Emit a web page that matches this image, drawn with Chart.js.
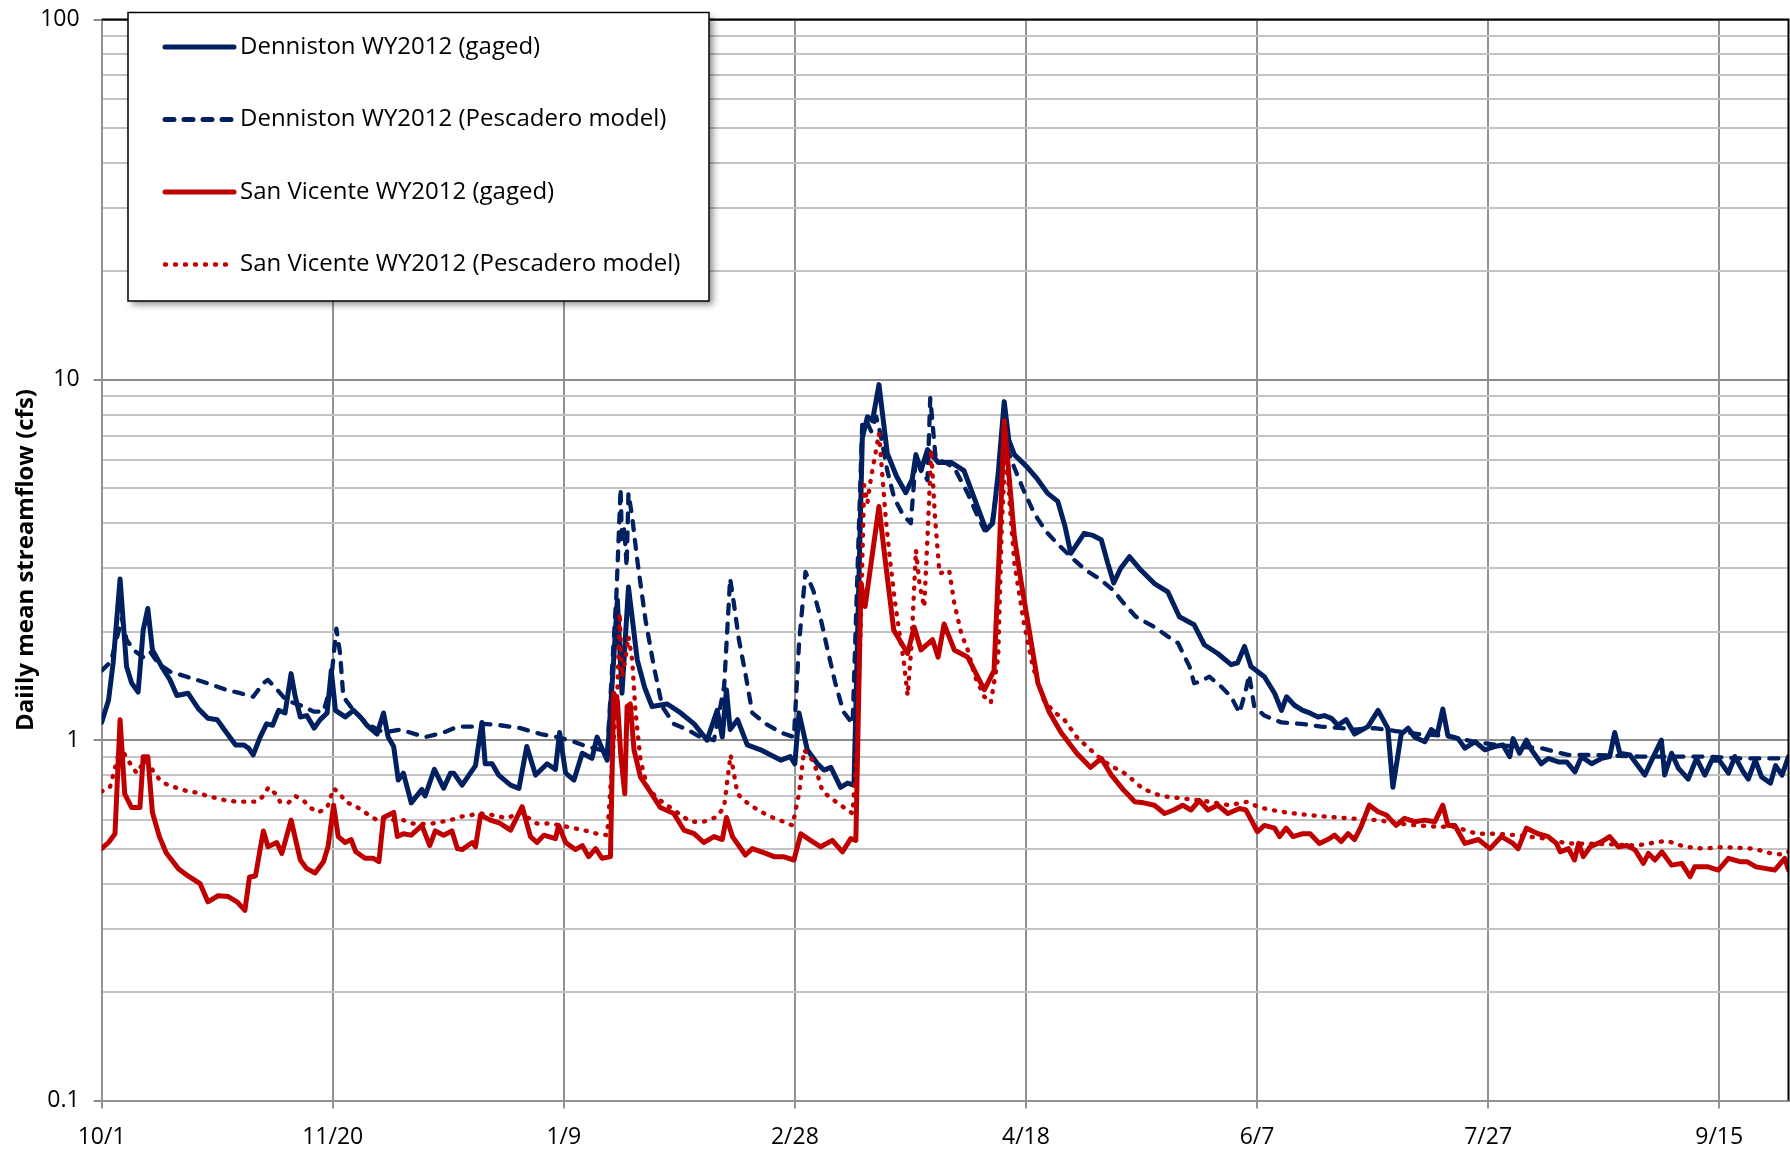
<!DOCTYPE html>
<html>
<head>
<meta charset="utf-8">
<title>Daily mean streamflow WY2012</title>
<script src="https://cdn.jsdelivr.net/npm/chart.js@4.4.0/dist/chart.umd.min.js"></script>
<style>
    html, body { margin: 0; padding: 0; background: #fff; }
    #wrap { width: 1790px; height: 1150px; position: relative; }
</style>
</head>
<body>
<div id="wrap"><canvas id="flowChart" width="1790" height="1150"></canvas></div>
<script>
// x = days since 10/1/2011, y = daily mean streamflow (cfs)
const xTickDays = [0, 50, 100, 150, 200, 250, 300, 350];
const xTickLabels = ['10/1', '11/20', '1/9', '2/28', '4/18', '6/7', '7/27', '9/15'];
const yTickValues = [0.1, 1, 10, 100];
const yTickLabels = ['0.1', '1', '10', '100'];

const seriesNames = [
    'Denniston WY2012 (gaged)',
    'Denniston WY2012 (Pescadero model)',
    'San Vicente WY2012 (gaged)',
    'San Vicente WY2012 (Pescadero model)'
];

const dennistonGaged = [
    [0,1.12],[1.5,1.29],[2.5,1.64],[4,2.8],[4.7,2.11],[5.4,1.6],[6.5,1.44],[7.9,1.36],[9,2.02],[10,2.32],
    [11,1.78],[13,1.6],[14.8,1.47],[16.3,1.33],[18.7,1.35],[21,1.22],[23,1.15],[25,1.14],[27,1.05],[29,0.97],
    [30.7,0.97],[31.8,0.95],[32.8,0.91],[34.3,1.02],[35.7,1.11],[37,1.1],[38.3,1.21],[39.7,1.19],[41,1.53],[41.9,1.32],
    [43,1.16],[44.4,1.17],[46,1.08],[47.3,1.14],[48.8,1.19],[49.7,1.56],[50.6,1.21],[52.7,1.16],[54.5,1.21],[56,1.16],
    [57.4,1.1],[59.6,1.04],[61,1.19],[62,1.02],[63.2,0.96],[64.2,0.775],[65.3,0.81],[67,0.67],[69.3,0.73],[70,0.7],
    [72,0.83],[74,0.736],[75.5,0.81],[76.2,0.81],[78,0.75],[80.9,0.85],[82.3,1.12],[83,0.86],[84.5,0.86],[85.9,0.8],
    [88.5,0.75],[90.3,0.735],[92,0.96],[93.9,0.8],[96.4,0.86],[98.2,0.83],[99.1,1.05],[100.4,0.81],[102.2,0.775],[104,0.92],
    [106.1,0.89],[107.2,1.02],[109.4,0.88],[110.8,1.67],[111.6,2.45],[112.6,1.35],[114,2.66],[115.9,1.67],[117.5,1.4],[119.1,1.24],
    [122.4,1.26],[125.3,1.19],[128.2,1.11],[131,1.0],[133.2,1.21],[134.3,1.02],[135.2,1.38],[136,1.07],[137.6,1.14],[139.7,0.97],
    [142.6,0.94],[144.8,0.91],[147,0.88],[149,0.9],[150,0.86],[150.9,1.19],[152.7,0.94],[154.9,0.86],[156.3,0.826],[157.8,0.84],
    [159.9,0.74],[161.4,0.76],[162.8,0.75],[164.6,6.9],[165.7,7.9],[166.8,7.7],[168.2,9.7],[170,6.25],[172,5.4],[174,4.86],
    [175.4,5.3],[176.2,6.2],[177.3,5.6],[178.7,6.4],[181,5.9],[183.8,5.9],[186.6,5.6],[188.8,4.7],[191.4,3.83],[192.8,4.0],
    [194,5.5],[195.3,8.7],[196.3,6.8],[197.5,6.2],[200.4,5.7],[202.5,5.3],[204.7,4.84],[206.9,4.6],[208.5,3.9],[209.7,3.3],
    [212.6,3.75],[214.5,3.7],[216.3,3.6],[217.7,3.1],[219,2.73],[220.5,3.0],[222.4,3.23],[224.9,2.96],[227.8,2.72],[230.7,2.58],
    [233.2,2.2],[236.4,2.09],[238.6,1.84],[241.5,1.74],[244.4,1.62],[245.8,1.64],[247.3,1.82],[248.7,1.6],[251.6,1.5],[253.8,1.35],
    [255.3,1.21],[256.4,1.32],[258.1,1.25],[259.9,1.21],[261.4,1.19],[263.2,1.16],[264.6,1.17],[266.1,1.15],[267.5,1.1],[269.3,1.14],
    [271.1,1.04],[274,1.09],[276.2,1.21],[278.3,1.08],[279.4,0.74],[281.2,1.04],[282.7,1.08],[284.1,1.02],[286.3,0.99],[287.7,1.07],
    [289,1.04],[290.2,1.22],[291.3,1.03],[293.5,1.01],[295,0.95],[297.2,0.99],[299.3,0.94],[301.4,0.96],[303.2,0.97],[304.7,0.9],
    [305.4,1.01],[306.8,0.92],[308.3,1.0],[309.4,0.94],[311.5,0.86],[313,0.89],[315.2,0.87],[317,0.87],[318.8,0.817],[320.2,0.9],
    [322.4,0.86],[324.6,0.89],[326.3,0.9],[327.4,1.05],[328.5,0.92],[330.7,0.91],[332.1,0.86],[333.9,0.8],[335.4,0.88],[337.5,1.0],
    [338.2,0.8],[339.7,0.92],[341.2,0.835],[343.3,0.78],[345.1,0.89],[346.9,0.8],[348.4,0.88],[350,0.88],[352,0.81],[353.4,0.9],
    [355.2,0.817],[356.3,0.78],[357.8,0.88],[359.2,0.79],[361.1,0.76],[362.2,0.85],[363.6,0.8],[365,0.9]
];

const dennistonModel = [
    [0,1.56],[2,1.65],[4.4,2.18],[5.4,1.9],[6.9,1.78],[9,1.7],[10.5,1.76],[12.3,1.63],[14.8,1.55],[18.4,1.5],
    [22.8,1.44],[27,1.38],[30,1.35],[32.8,1.32],[35,1.44],[36,1.47],[38,1.38],[40,1.29],[43,1.25],[45.9,1.2],
    [48,1.2],[49.5,1.4],[50.8,2.04],[51.6,1.74],[52.3,1.32],[54.5,1.21],[57.4,1.11],[61,1.05],[64.6,1.07],[70,1.02],
    [74,1.05],[77,1.09],[80.5,1.09],[82.7,1.11],[86.3,1.1],[90.6,1.08],[95,1.04],[98.6,1.02],[102.2,0.99],[105,0.96],
    [108,0.94],[109.4,0.92],[111.4,2.55],[112.3,5.0],[112.6,3.51],[113.1,3.9],[113.6,3.03],[114,4.84],[114.8,4.17],[115.9,3.16],
    [117.7,2.15],[119.5,1.6],[121.3,1.24],[123.8,1.11],[126.7,1.07],[129.6,1.02],[132.5,1.0],[134.7,1.41],[136,2.81],[136.8,2.4],
    [137.9,1.9],[139.3,1.53],[140.8,1.19],[143.7,1.11],[147,1.05],[149.8,1.02],[150.9,1.85],[152.3,2.93],[154,2.6],[155.5,2.2],
    [157,1.8],[158.7,1.45],[160.5,1.2],[162.5,1.11],[164.6,7.7],[165.7,7.6],[166.5,7.2],[167.6,7.9],[168.6,7.0],[170,5.6],
    [171.5,4.7],[173.5,4.2],[175.1,4.0],[176.2,6.1],[177.5,5.6],[178.7,5.27],[179.3,8.9],[180.5,6.0],[182.5,5.9],[184.5,5.7],
    [187.4,4.84],[189.5,4.2],[191,3.83],[192.5,3.9],[193.8,5.0],[195,7.3],[196.2,6.3],[197.5,5.7],[199.6,4.9],[201.8,4.26],
    [204.3,3.8],[206.9,3.5],[210,3.2],[213,2.96],[216,2.8],[219,2.6],[220.9,2.42],[223.8,2.2],[227.8,2.06],[230.7,1.94],
    [232.9,1.86],[235.4,1.6],[236.4,1.44],[237.5,1.45],[239.7,1.5],[242.2,1.41],[244.4,1.32],[246.2,1.19],[247.6,1.38],[248.3,1.52],
    [249.4,1.24],[251.6,1.17],[255.3,1.12],[259.6,1.11],[263.9,1.09],[268.3,1.08],[271.1,1.07],[275.4,1.08],[280,1.06],[285,1.04],
    [290,1.03],[292.3,1.02],[297,0.99],[302,0.97],[306,0.96],[311.5,0.95],[317.3,0.91],[323,0.91],[333,0.9],[340,0.9],
    [347.6,0.9],[355,0.89],[365,0.89]
];

const sanVicenteGaged = [
    [0,0.5],[1.5,0.52],[2.9,0.55],[4,1.14],[5,0.71],[6.5,0.65],[8.3,0.65],[9,0.9],[10,0.9],[11,0.63],
    [12.5,0.54],[14,0.486],[16.6,0.44],[18.7,0.42],[21.3,0.4],[23,0.356],[25.2,0.37],[27.4,0.368],[29.3,0.356],[31,0.337],
    [32,0.417],[33.3,0.42],[35,0.56],[36,0.506],[37.9,0.52],[39,0.485],[41,0.6],[43,0.465],[44.4,0.44],[46.2,0.428],
    [48,0.46],[49,0.506],[50.2,0.66],[51.2,0.54],[52.7,0.52],[54,0.53],[55,0.49],[57,0.47],[58.8,0.47],[60,0.46],
    [61,0.61],[63.2,0.63],[64,0.54],[65.3,0.55],[67,0.545],[69.3,0.58],[71,0.51],[72.2,0.56],[74,0.545],[75.8,0.56],
    [77,0.5],[78,0.497],[80.2,0.52],[80.9,0.506],[82,0.62],[84.1,0.6],[86,0.59],[88.5,0.563],[91,0.654],[92.8,0.54],
    [94.2,0.52],[95.7,0.545],[98.2,0.533],[98.9,0.58],[100.4,0.52],[102.5,0.497],[104,0.51],[105.4,0.475],[106.9,0.5],[108.3,0.47],
    [110.1,0.475],[110.8,1.35],[111.6,1.29],[112.3,0.92],[113.2,0.71],[113.7,1.24],[114.4,1.26],[115.2,0.94],[116.6,0.79],[118.7,0.72],
    [120.9,0.65],[123.8,0.626],[126,0.563],[128.2,0.55],[130.3,0.52],[132.5,0.54],[134.3,0.53],[135.2,0.61],[136.5,0.54],[139.3,0.48],
    [140.8,0.5],[143.7,0.485],[145.5,0.475],[147.5,0.475],[149.8,0.465],[151.3,0.55],[153.4,0.527],[155.6,0.506],[158.1,0.527],[160.3,0.49],
    [162.1,0.533],[163.2,0.527],[164.3,2.73],[165.2,2.35],[168.2,4.45],[169.5,3.2],[171.4,2.02],[174.4,1.74],[175.8,2.06],[177.3,1.78],
    [179.8,1.9],[181,1.7],[182.3,2.1],[184.5,1.78],[187.4,1.7],[191,1.38],[193.1,1.56],[194.3,3.5],[195.3,7.7],[197.5,3.67],
    [198.9,2.78],[202.6,1.44],[205,1.2],[207.6,1.05],[211,0.92],[214,0.84],[216.3,0.89],[218.5,0.8],[221,0.73],[222.4,0.7],
    [223.5,0.675],[225.5,0.67],[227.8,0.66],[230,0.626],[232,0.64],[233.9,0.66],[235.7,0.64],[237.5,0.68],[239.4,0.64],[241.5,0.66],
    [243.7,0.626],[246.2,0.646],[247.6,0.64],[250.1,0.557],[251.6,0.58],[253.8,0.57],[254.9,0.54],[256.3,0.57],[257.8,0.54],[259.9,0.55],
    [261.5,0.55],[263.5,0.517],[265.3,0.53],[266.8,0.545],[268.2,0.523],[269.7,0.55],[271.1,0.53],[272.5,0.575],[274.3,0.66],[276.2,0.633],
    [278,0.62],[280.1,0.58],[281.9,0.607],[284.1,0.594],[286.3,0.6],[288.5,0.594],[290.2,0.66],[291.3,0.58],[292.8,0.58],[295,0.517],
    [297.9,0.53],[300.4,0.5],[302.9,0.54],[305.4,0.517],[306.5,0.5],[308.3,0.57],[310.8,0.55],[313,0.54],[314.8,0.517],[315.6,0.49],
    [317.4,0.5],[318.7,0.465],[319.6,0.517],[320.6,0.475],[322.1,0.506],[324.6,0.523],[326.3,0.54],[328.2,0.506],[330,0.51],[331.8,0.496],
    [333.6,0.455],[334.7,0.485],[336.1,0.465],[337.6,0.49],[339.7,0.45],[341.9,0.455],[343.7,0.418],[344.7,0.445],[347.6,0.445],[349.8,0.436],
    [352,0.47],[354.5,0.46],[356,0.46],[358,0.445],[360.2,0.44],[362,0.436],[364.2,0.47],[365,0.436]
];

const sanVicenteModel = [
    [0,0.72],[1.8,0.74],[2.9,0.835],[4,0.96],[6.2,0.86],[7.6,0.81],[9.4,0.88],[11.2,0.82],[12.6,0.775],[14.4,0.75],
    [16.6,0.735],[18.8,0.72],[20.9,0.715],[22.8,0.7],[25,0.69],[27,0.68],[29.2,0.675],[33.6,0.675],[35,0.7],[36.1,0.74],
    [37.6,0.71],[38.6,0.675],[40.4,0.67],[41.9,0.7],[43.7,0.68],[45.1,0.65],[46.9,0.63],[48.8,0.65],[50.2,0.735],[51.6,0.71],
    [52.7,0.675],[54.5,0.66],[56.3,0.64],[57.8,0.62],[59.6,0.6],[61.4,0.61],[63.2,0.6],[65.3,0.6],[67.2,0.587],[69.3,0.585],
    [71.5,0.587],[73.7,0.594],[75.5,0.6],[77.6,0.613],[82,0.626],[84.5,0.62],[87.7,0.607],[90.6,0.63],[94.2,0.587],[97.1,0.587],
    [100.7,0.575],[104.3,0.563],[107.2,0.55],[109.4,0.545],[110.8,1.0],[111.6,1.35],[112.1,2.25],[112.6,1.5],[113.3,1.67],[114,1.94],
    [114.8,1.67],[115.5,1.21],[116.6,0.88],[118.1,0.74],[120.2,0.69],[123.8,0.64],[127.4,0.594],[130.3,0.594],[133.2,0.613],[134.7,0.654],
    [135.4,0.775],[136.1,0.91],[136.8,0.81],[137.6,0.71],[139,0.68],[141.2,0.65],[143.4,0.626],[145.5,0.607],[147.6,0.594],[149.5,0.58],
    [150.9,0.71],[152,0.94],[154.1,0.87],[156,0.72],[159.2,0.67],[162.5,0.626],[163.5,0.99],[164.2,1.97],[165,5.1],[165.7,4.55],
    [166.4,5.27],[167.3,6.1],[168.2,7.1],[169,5.3],[169.7,4.08],[170.6,3.16],[171.6,2.45],[172.5,2.04],[173.6,1.64],[174.4,1.33],
    [175.2,1.8],[176.2,3.37],[177,2.7],[178,2.34],[178.8,3.9],[179.5,6.4],[180.3,4.2],[181.3,2.9],[183.4,2.96],[184.5,2.4],
    [186,1.98],[187.4,1.78],[189,1.5],[191,1.32],[192.4,1.27],[194,1.7],[194.8,4.0],[195.7,6.9],[196.5,4.5],[197.5,3.1],
    [199.6,2.1],[201.5,1.6],[203.9,1.29],[206,1.2],[208.3,1.14],[211,1.02],[214,0.94],[216.5,0.88],[219,0.84],[220.9,0.817],
    [222.4,0.79],[225.3,0.733],[229.2,0.7],[233.6,0.69],[239.7,0.675],[244,0.66],[248,0.675],[250.1,0.654],[252.3,0.643],[256.6,0.629],
    [261,0.62],[265.3,0.613],[269.7,0.607],[276.2,0.6],[280.5,0.587],[284.8,0.58],[289.1,0.575],[292.8,0.575],[297.5,0.55],[301.8,0.55],
    [306.1,0.545],[312.6,0.533],[317,0.517],[325,0.515],[332.1,0.51],[338.6,0.526],[342.6,0.506],[346.6,0.5],[350.9,0.505],[357.4,0.5],
    [361.3,0.485],[363.6,0.482],[365,0.49]
];

const NAVY = '#002060';
const RED = '#C00000';
const FONT = '"Open Sans", Lato, sans-serif';

// every 1..9 x 10^n line between 0.1 and 100
const yGridValues = [];
[-1, 0, 1].forEach(e => {
    for (let m = 1; m <= 9; m++) yGridValues.push(Number((m * Math.pow(10, e)).toPrecision(3)));
});
yGridValues.push(100);

function isDecade(v) {
    return yTickValues.includes(v);
}

function toPoints(arr) {
    return arr.map(([x, y]) => ({ x: x, y: y }));
}

const lineStyles = [
    { color: NAVY, width: 5, dash: [] },
    { color: NAVY, width: 4.3, dash: [9, 10] },
    { color: RED, width: 5, dash: [] },
    { color: RED, width: 4.4, dash: [1, 9] }
];

const seriesData = [dennistonGaged, dennistonModel, sanVicenteGaged, sanVicenteModel];

const datasets = seriesData.map((arr, i) => ({
    label: seriesNames[i],
    data: toPoints(arr),
    borderColor: lineStyles[i].color,
    borderWidth: lineStyles[i].width,
    borderDash: lineStyles[i].dash,
    borderCapStyle: 'round',
    borderJoinStyle: 'round',
    pointRadius: 0,
    tension: 0,
    fill: false,
    order: seriesData.length - i   // later series on top, like the original
}));

// top/right frame in black
const framePlugin = {
    id: 'frame',
    afterDatasetsDraw(chart) {
        const { ctx, chartArea: a } = chart;
        ctx.save();
        ctx.strokeStyle = '#000';
        ctx.lineWidth = 2;
        ctx.beginPath();
        ctx.moveTo(a.left, a.top);
        ctx.lineTo(a.right, a.top);
        ctx.lineTo(a.right, a.bottom);
        ctx.stroke();
        ctx.restore();
    }
};

// boxed legend sitting over the top-left of the plot
const boxLegend = {
    id: 'boxLegend',
    afterDraw(chart) {
        const ctx = chart.ctx;
        const box = { x: 128, y: 12.5, w: 581, h: 288.5 };
        const rowY = [47, 119.5, 192, 264.5];

        ctx.save();
        ctx.shadowColor = 'rgba(0,0,0,0.45)';
        ctx.shadowBlur = 7;
        ctx.shadowOffsetX = 4;
        ctx.shadowOffsetY = 4;
        ctx.fillStyle = '#fff';
        ctx.fillRect(box.x, box.y, box.w, box.h);
        ctx.restore();

        ctx.save();
        ctx.strokeStyle = '#000';
        ctx.lineWidth = 1.5;
        ctx.strokeRect(box.x, box.y, box.w, box.h);

        chart.data.datasets.forEach((ds, i) => {
            const y = rowY[i];
            ctx.strokeStyle = ds.borderColor;
            ctx.lineWidth = i === 3 ? 4.4 : 5;
            ctx.lineCap = 'round';
            ctx.setLineDash(i === 1 ? [9, 10] : (i === 3 ? [1, 9] : []));
            ctx.beginPath();
            ctx.moveTo(165, y);
            ctx.lineTo(i === 3 ? 226 : 234, y);
            ctx.stroke();

            ctx.setLineDash([]);
            ctx.fillStyle = '#000';
            ctx.font = '24px ' + FONT;
            ctx.textBaseline = 'middle';
            ctx.textAlign = 'left';
            ctx.fillText(ds.label, 240, y);
        });
        ctx.restore();
    }
};

document.addEventListener('DOMContentLoaded', () => {
    Chart.defaults.font.family = FONT;
    Chart.defaults.color = '#000';

    const ctx = document.getElementById('flowChart').getContext('2d');
    new Chart(ctx, {
        type: 'line',
        data: { datasets: datasets },
        options: {
            responsive: false,
            animation: false,
            devicePixelRatio: 1,
            layout: { padding: { top: 19.5, right: 1.5, left: 0, bottom: 0 } },
            plugins: {
                legend: { display: false },
                tooltip: { enabled: false }
            },
            scales: {
                x: {
                    type: 'linear',
                    min: 0,
                    max: 365,
                    afterBuildTicks: s => { s.ticks = xTickDays.map(v => ({ value: v })); },
                    afterFit: s => { s.height = 49.5; s.paddingLeft = 0; s.paddingRight = 0; },
                    ticks: {
                        callback: (v, i) => xTickLabels[i],
                        font: { size: 23 },
                        color: '#000',
                        padding: 15,
                        maxRotation: 0,
                        autoSkip: false
                    },
                    grid: { color: '#929292', lineWidth: 2, tickLength: 8, tickColor: '#929292' },
                    border: { color: '#929292', width: 2 }
                },
                y: {
                    type: 'logarithmic',
                    min: 0.1,
                    max: 100,
                    afterBuildTicks: s => { s.ticks = yGridValues.map(v => ({ value: v, major: isDecade(v) })); },
                    afterFit: s => { s.width = 101.6; s.paddingTop = 0; s.paddingBottom = 0; },
                    ticks: {
                        callback: v => isDecade(v) ? yTickLabels[yTickValues.indexOf(v)] : '',
                        font: { size: 23 },
                        color: '#000',
                        padding: 14,
                        autoSkip: false
                    },
                    grid: {
                        color: c => (c.tick && isDecade(c.tick.value)) ? '#8c8c8c' : '#c4c4c4',
                        tickColor: c => (c.tick && isDecade(c.tick.value)) ? '#8c8c8c' : 'rgba(0,0,0,0)',
                        lineWidth: 2,
                        tickLength: 8
                    },
                    border: { color: '#929292', width: 2 },
                    title: {
                        display: true,
                        text: 'Daiily mean streamflow (cfs)',
                        font: { size: 24, weight: 'bold' },
                        color: '#000',
                        padding: { top: 12, bottom: 0 }
                    }
                }
            }
        },
        plugins: [framePlugin, boxLegend]
    });
});
</script>
</body>
</html>
